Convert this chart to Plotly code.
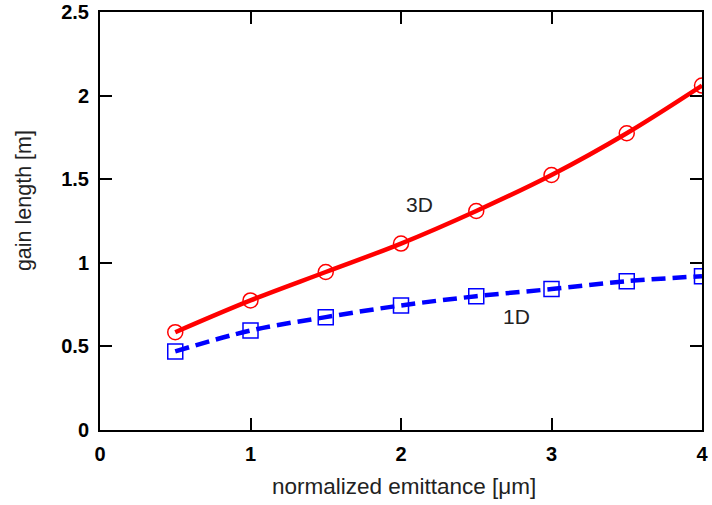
import plotly.graph_objects as go

emittance = [0.5, 1.0, 1.5, 2.0, 2.5, 3.0, 3.5, 4.0]
gain_3d = [0.585, 0.775, 0.945, 1.115, 1.31, 1.525, 1.775, 2.06]
gain_1d = [0.47, 0.595, 0.675, 0.745, 0.80, 0.843, 0.89, 0.92]
x_ticks = [0, 1, 2, 3, 4]
y_ticks = [0, 0.5, 1, 1.5, 2, 2.5]
y_tick_text = ["0", "0.5", "1", "1.5", "2", "2.5"]

FONT = "Arial, Liberation Sans, sans-serif"

fig = go.Figure()
fig.add_trace(go.Scatter(
    x=emittance, y=gain_3d, mode="lines+markers", line_shape="spline",
    line=dict(color="#ff0000", width=4.5),
    marker=dict(symbol="circle-open", size=15, color="#ff0000", line=dict(width=1.5)),
    showlegend=False))
fig.add_trace(go.Scatter(
    x=emittance, y=gain_1d, mode="lines+markers", line_shape="spline",
    line=dict(color="#0000ff", width=4.5, dash="14px,7px"),
    marker=dict(symbol="square-open", size=15, color="#0000ff", line=dict(width=1.5)),
    showlegend=False))

fig.add_annotation(x=2.12, y=1.346, text="3D", showarrow=False,
                   font=dict(family=FONT, size=21, color="#222222"))
fig.add_annotation(x=2.77, y=0.676, text="1D", showarrow=False,
                   font=dict(family=FONT, size=21, color="#222222"))

# axis titles
fig.add_annotation(xref="paper", yref="paper", x=0.505, y=-0.136, text="normalized emittance [μm]",
                   showarrow=False, xanchor="center", yanchor="middle",
                   font=dict(family=FONT, size=22.5, color="#222222"))
fig.add_annotation(xref="paper", yref="paper", x=-0.126, y=0.548, text="gain length [m]",
                   showarrow=False, textangle=-90, xanchor="center", yanchor="middle",
                   font=dict(family=FONT, size=21.5, color="#222222"))

axis_common = dict(showline=True, linecolor="black", linewidth=2, mirror="ticks",
                   ticks="inside", ticklen=12, tickwidth=1.5, tickcolor="black",
                   showgrid=False, zeroline=False, automargin=False, ticklabelstandoff=5,
                   tickfont=dict(family=FONT, size=20, color="black", weight="bold"))

fig.update_xaxes(range=[0, 4], tickvals=x_ticks, **axis_common)
fig.update_yaxes(range=[0, 2.5], tickvals=y_ticks, ticktext=y_tick_text, **axis_common)

fig.update_layout(width=712, height=505, margin=dict(l=100, r=10, t=12, b=75),
                  plot_bgcolor="white", paper_bgcolor="white")
fig.write_html("out.html", config={"displayModeBar": False},
               post_script="document.body.style.margin='0';")
